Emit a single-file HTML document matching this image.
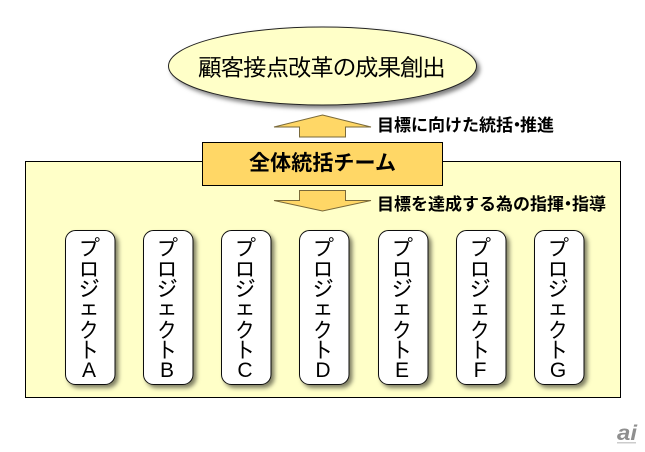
<!DOCTYPE html>
<html><head><meta charset="utf-8"><style>
html,body{margin:0;padding:0;background:#fff;width:645px;height:452px;overflow:hidden}
svg{display:block}
.t{font-family:"Liberation Sans","IPAGothic","Noto Sans CJK JP",sans-serif;font-size:21px}
.j{font-family:"IPAGothic","Noto Sans CJK JP",sans-serif;fill:#000}
.b{font-family:"Noto Sans CJK JP","IPAGothic",sans-serif;font-weight:700;fill:#000}
</style></head><body>
<svg width="645" height="452" viewBox="0 0 645 452" xmlns="http://www.w3.org/2000/svg">
<defs><filter id="s" x="-20%" y="-20%" width="140%" height="140%"><feDropShadow dx="3" dy="3" stdDeviation="2.2" flood-color="#000" flood-opacity=".5"/></filter></defs>
<rect x="25.5" y="161.5" width="595" height="236" fill="#ffffc8" stroke="#000" stroke-width="1"/>
<ellipse cx="322.500" cy="66" rx="154" ry="39" fill="#ffffc8" stroke="#222" filter="url(#s)"/>
<text class="j" x="198" y="76" font-size="24" textLength="248">顧客接点改革の成果創出</text>
<path d="M322.500 115L371 127H345.500V137H299.500V127H274Z" fill="#ffd766" stroke="#7a6a3a" stroke-width="1"/>
<rect x="202.500" y="142.500" width="240" height="43" fill="#ffd766" stroke="#000"/>
<text class="b" x="322.500" y="170" font-size="21" text-anchor="middle" textLength="147">全体統括チーム</text>
<path d="M299.500 190.500H345.500V200.500H371L322.500 211L274 200.500H299.500Z" fill="#ffd766" stroke="#7a6a3a" stroke-width="1"/>
<text class="b" y="131" font-size="17"><tspan x="377">目標に向けた統括</tspan><tspan x="508.500">・</tspan><tspan x="520">推進</tspan></text>
<text class="b" y="210" font-size="17"><tspan x="377">目標を達成する為の指揮</tspan><tspan x="559.500">・</tspan><tspan x="572">指導</tspan></text>
<g fill="#fff" stroke="#111" filter="url(#s)">
<rect x="65.500" y="230.500" width="49.500" height="154" rx="10"/>
<rect x="143.500" y="230.500" width="49.500" height="154" rx="10"/>
<rect x="221.500" y="230.500" width="49.500" height="154" rx="10"/>
<rect x="299.500" y="230.500" width="49.500" height="154" rx="10"/>
<rect x="378.500" y="230.500" width="49.500" height="154" rx="10"/>
<rect x="456.500" y="230.500" width="49.500" height="154" rx="10"/>
<rect x="534.500" y="230.500" width="49.500" height="154" rx="10"/>
</g>
<g class="j" font-size="22" text-anchor="middle">
<g transform="translate(89 0)"><text y="256">プ</text><text y="277">ロ</text><text y="297">ジ</text><text y="316">ェ</text><text y="338">ク</text><text y="358">ト</text><text class="t" y="377">A</text></g>
<g transform="translate(167 0)"><text y="256">プ</text><text y="277">ロ</text><text y="297">ジ</text><text y="316">ェ</text><text y="338">ク</text><text y="358">ト</text><text class="t" y="377">B</text></g>
<g transform="translate(245 0)"><text y="256">プ</text><text y="277">ロ</text><text y="297">ジ</text><text y="316">ェ</text><text y="338">ク</text><text y="358">ト</text><text class="t" y="377">C</text></g>
<g transform="translate(323 0)"><text y="256">プ</text><text y="277">ロ</text><text y="297">ジ</text><text y="316">ェ</text><text y="338">ク</text><text y="358">ト</text><text class="t" y="377">D</text></g>
<g transform="translate(402 0)"><text y="256">プ</text><text y="277">ロ</text><text y="297">ジ</text><text y="316">ェ</text><text y="338">ク</text><text y="358">ト</text><text class="t" y="377">E</text></g>
<g transform="translate(480 0)"><text y="256">プ</text><text y="277">ロ</text><text y="297">ジ</text><text y="316">ェ</text><text y="338">ク</text><text y="358">ト</text><text class="t" y="377">F</text></g>
<g transform="translate(558 0)"><text y="256">プ</text><text y="277">ロ</text><text y="297">ジ</text><text y="316">ェ</text><text y="338">ク</text><text y="358">ト</text><text class="t" y="377">G</text></g>
</g>
<text x="617" y="440" font-family="Liberation Sans,sans-serif" font-weight="700" font-style="italic" font-size="21" fill="#8f8f8f" textLength="20" lengthAdjust="spacingAndGlyphs">ai</text>
<rect x="617" y="442" width="19" height="1.500" fill="#ccc"/>
</svg>
</body></html>
